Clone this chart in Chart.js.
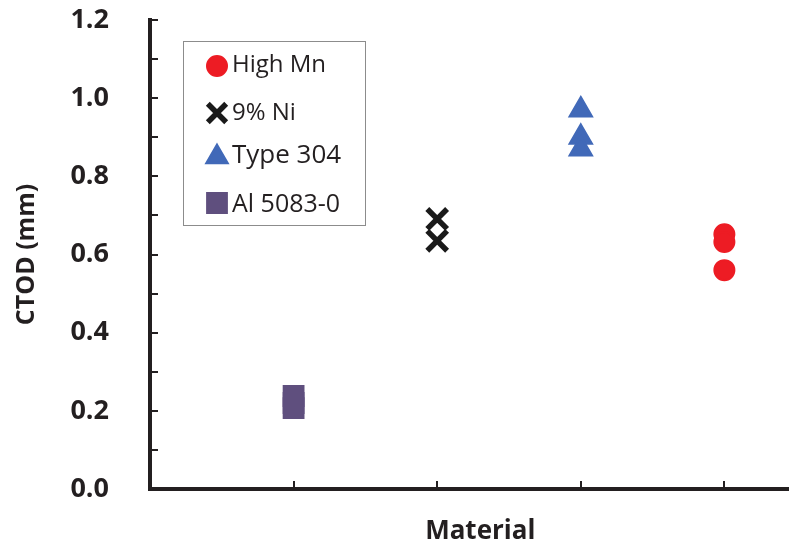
<!DOCTYPE html>
<html>
<head>
<meta charset="utf-8">
<script src="https://cdn.jsdelivr.net/npm/chart.js@4.4.1/dist/chart.umd.min.js"></script>
<style>
  html, body { margin: 0; padding: 0; background: #fff; overflow: hidden; }
  #chart { display: block; }
</style>
</head>
<body>
<canvas id="chart" width="789" height="545"></canvas>
<script>
// x positions of the four materials along the (unlabelled) axis
var materials = ['Al 5083-0', '9% Ni', 'Type 304', 'High Mn'];

// CTOD values (mm)
var al5083 = [0.207, 0.22, 0.238];
var ni9 = [0.691, 0.635];
var type304 = [0.97, 0.90, 0.87];
var highMn = [0.652, 0.632, 0.56];

var yTicks = { min: 0, max: 1.2, step: 0.1 };

function points(name, values) {
  var xPos = materials.indexOf(name) + 1;
  return values.map(function (v) { return { x: xPos, y: v }; });
}

var axisColor = '#231f20';

// Ticks drawn inward, like the original figure, plus the x title
var innerTicks = {
  id: 'innerTicks',
  afterDraw: function (chart) {
    var ctx = chart.ctx;
    var xs = chart.scales.x;
    var ys = chart.scales.y;
    var area = chart.chartArea;
    ctx.save();
    ctx.strokeStyle = axisColor;
    ctx.lineWidth = 2;
    ctx.beginPath();
    ys.ticks.forEach(function (t) {
      var y = Math.round(ys.getPixelForValue(t.value));
      ctx.moveTo(area.left, y);
      ctx.lineTo(area.left + 8, y);
    });
    materials.forEach(function (m, i) {
      var x = Math.round(xs.getPixelForValue(i + 1));
      ctx.moveTo(x, area.bottom);
      ctx.lineTo(x, area.bottom - 8);
    });
    ctx.stroke();
    // close the corner of the two axis lines
    ctx.fillStyle = axisColor;
    ctx.fillRect(area.left - 2, area.bottom - 2, 4, 4);

    // the original plot runs past the right edge, so its title sits right of centre
    ctx.font = 'bold 26px "Open Sans"';
    ctx.textAlign = 'center';
    ctx.textBaseline = 'alphabetic';
    ctx.fillText('Material', xs.getPixelForValue(2.3), 539);
    ctx.restore();
  }
};

// Boxed legend inside the plot area
var boxLegend = {
  id: 'boxLegend',
  afterDraw: function (chart) {
    var ctx = chart.ctx;
    var rows = [
      { ds: 0, y: 66, base: 72, size: 24 },
      { ds: 1, y: 113, base: 120, size: 24 },
      { ds: 2, y: 157, base: 163, size: 26 },
      { ds: 3, y: 203, base: 212, size: 25 }
    ];
    ctx.save();
    ctx.fillStyle = '#fff';
    ctx.fillRect(183, 41, 182, 184);
    ctx.strokeStyle = '#8c8c8c';
    ctx.lineWidth = 1;
    ctx.strokeRect(183.5, 41.5, 182, 184);
    rows.forEach(function (r) {
      var ds = chart.data.datasets[r.ds];
      ctx.fillStyle = ds.backgroundColor;
      ctx.strokeStyle = ds.borderColor;
      ctx.lineWidth = ds.borderWidth;
      Chart.helpers.drawPoint(ctx, {
        pointStyle: ds.pointStyle,
        radius: ds.legendRadius,
        rotation: 0,
        borderWidth: ds.borderWidth
      }, 217, r.y);
      ctx.fillStyle = axisColor;
      ctx.font = r.size + 'px "Open Sans"';
      ctx.textBaseline = 'alphabetic';
      ctx.textAlign = 'left';
      ctx.fillText(ds.label, 232, r.base);
    });
    ctx.restore();
  }
};

new Chart(document.getElementById('chart'), {
  type: 'scatter',
  data: {
    datasets: [
      {
        label: 'High Mn',
        data: points('High Mn', highMn),
        pointStyle: 'circle',
        pointRadius: 10,
        legendRadius: 10,
        backgroundColor: '#ed1c24',
        borderColor: '#ed1c24',
        borderWidth: 2
      },
      {
        label: '9% Ni',
        data: points('9% Ni', ni9),
        pointStyle: 'crossRot',
        pointRadius: 14,
        legendRadius: 13,
        backgroundColor: '#1a1a1a',
        borderColor: '#1a1a1a',
        borderWidth: 5.5
      },
      {
        label: 'Type 304',
        data: points('Type 304', type304),
        pointStyle: 'triangle',
        pointRadius: 12.5,
        legendRadius: 12,
        backgroundColor: '#4169b8',
        borderColor: '#4169b8',
        borderWidth: 2.5
      },
      {
        label: 'Al 5083-0',
        data: points('Al 5083-0', al5083),
        pointStyle: 'rect',
        pointRadius: 14,
        legendRadius: 14,
        backgroundColor: '#5f4f7e',
        borderColor: '#5f4f7e',
        borderWidth: 2
      }
    ]
  },
  options: {
    responsive: false,
    animation: false,
    layout: { autoPadding: false, padding: { top: 20, left: 0, right: 0, bottom: 0 } },
    plugins: {
      legend: { display: false },
      tooltip: { enabled: false }
    },
    scales: {
      x: {
        type: 'linear',
        min: 0,
        max: 4.45,
        grid: { display: false, drawTicks: false },
        border: { display: true, color: axisColor, width: 4 },
        ticks: { display: false },
        afterFit: function (scale) {
          scale.height = 56;
          scale.paddingLeft = 0;
          scale.paddingRight = 0;
        }
      },
      y: {
        min: yTicks.min,
        max: yTicks.max,
        grid: { display: false, drawTicks: false },
        border: { display: true, color: axisColor, width: 4 },
        ticks: {
          stepSize: yTicks.step,
          autoSkip: false,
          padding: 41,
          color: axisColor,
          font: { family: 'Open Sans', size: 27, weight: 'bold' },
          callback: function (v) {
            return Math.round(v * 10) % 2 === 0 ? v.toFixed(1) : '';
          }
        },
        title: {
          display: true,
          text: 'CTOD (mm)',
          color: axisColor,
          font: { family: 'Open Sans', size: 25, weight: 'bold' },
          padding: { top: 12, bottom: 0 }
        },
        afterFit: function (scale) {
          scale.width = 150;
          // tick padding should not push the plot area down
          scale.paddingTop = 16;
          scale.paddingBottom = 16;
        }
      }
    }
  },
  plugins: [innerTicks, boxLegend]
});
</script>
</body>
</html>
